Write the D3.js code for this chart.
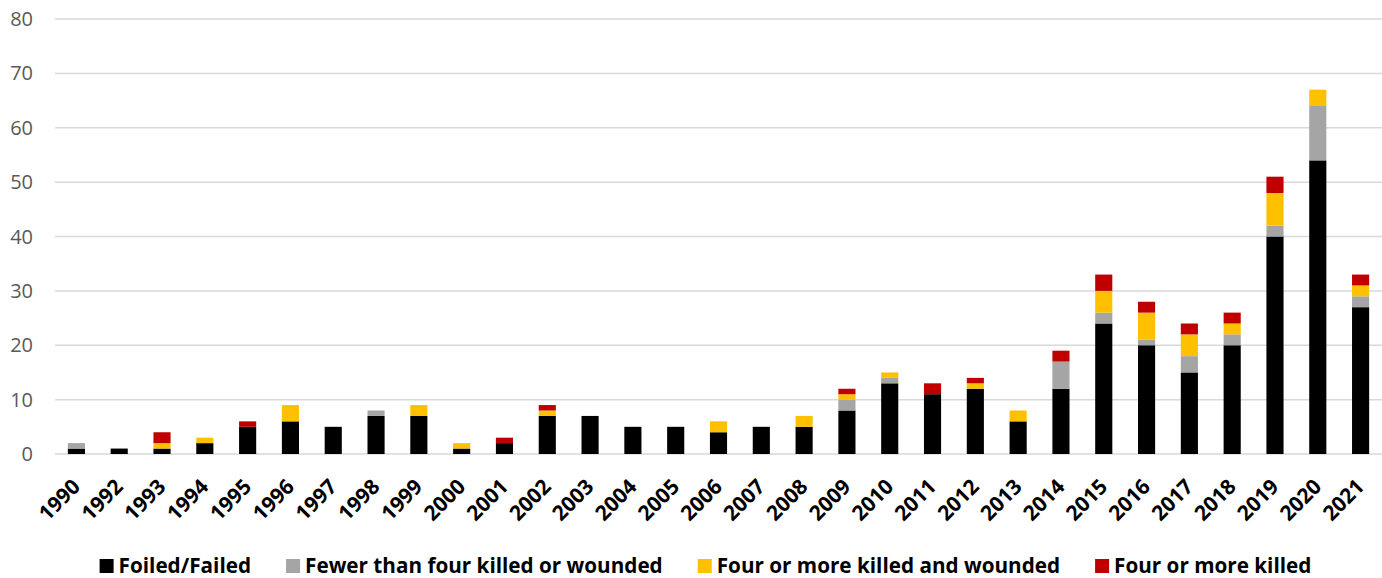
<!DOCTYPE html>
<meta charset="utf-8">
<script src="https://d3js.org/d3.v7.min.js"></script>
<style>
  body { margin: 0; background: #fff; }
  text { font-family: "Open Sans", sans-serif; }
</style>
<div id="my_dataviz"></div>
<script>

  // data
  var years = ["1990", "1992", "1993", "1994", "1995", "1996", "1997", "1998", "1999", "2000",
    "2001", "2002", "2003", "2004", "2005", "2006", "2007", "2008", "2009", "2010",
    "2011", "2012", "2013", "2014", "2015", "2016", "2017", "2018", "2019", "2020", "2021"];
  var foiled = [1, 1, 1, 2, 5, 6, 5, 7, 7, 1, 2, 7, 7, 5, 5, 4, 5, 5, 8, 13, 11, 12, 6, 12, 24, 20, 15, 20, 40, 54, 27];
  var fewer = [1, 0, 0, 0, 0, 0, 0, 1, 0, 0, 0, 0, 0, 0, 0, 0, 0, 0, 2, 1, 0, 0, 0, 5, 2, 1, 3, 2, 2, 10, 2];
  var fourKW = [0, 0, 1, 1, 0, 3, 0, 0, 2, 1, 0, 1, 0, 0, 0, 2, 0, 2, 1, 1, 0, 1, 2, 0, 4, 5, 4, 2, 6, 3, 2];
  var fourK = [0, 0, 2, 0, 1, 0, 0, 0, 0, 0, 1, 1, 0, 0, 0, 0, 0, 0, 1, 0, 2, 1, 0, 2, 3, 2, 2, 2, 3, 0, 2];
  var seriesNames = ["Foiled/Failed", "Fewer than four killed or wounded", "Four or more killed and wounded", "Four or more killed"];
  var seriesColors = ["#000000", "#a5a5a5", "#ffc000", "#c00000"];
  var yTicks = [0, 10, 20, 30, 40, 50, 60, 70, 80];

  var rows = years.map(function (y, i) {
    return { year: y, s0: foiled[i], s1: fewer[i], s2: fourKW[i], s3: fourK[i] };
  });
  var keys = ["s0", "s1", "s2", "s3"];

  var W = 1382, H = 578;
  var margin = { top: 19, right: 0, bottom: 124, left: 55 };
  var width = W - margin.left - margin.right,
    height = H - margin.top - margin.bottom;

  var svg = d3.select("#my_dataviz")
    .append("svg")
    .attr("width", W)
    .attr("height", H);

  var g = svg.append("g")
    .attr("transform", "translate(" + margin.left + "," + margin.top + ")");

  var x = d3.scaleBand()
    .domain(years)
    .range([0, width])
    .paddingInner(0.6)
    .paddingOuter(0.3);

  var y = d3.scaleLinear()
    .domain([0, 80])
    .range([height, 0]);

  // gridlines + y labels
  g.selectAll(".grid")
    .data(yTicks)
    .enter().append("line")
    .attr("x1", 0).attr("x2", width)
    .attr("y1", function (d) { return y(d); })
    .attr("y2", function (d) { return y(d); })
    .attr("stroke", "#d9d9d9")
    .attr("stroke-width", 1.5);

  g.selectAll(".ylab")
    .data(yTicks)
    .enter().append("text")
    .attr("x", -22)
    .attr("y", function (d) { return y(d); })
    .attr("dy", "0.35em")
    .attr("text-anchor", "end")
    .attr("fill", "#595959")
    .style("font-size", "20px")
    .text(function (d) { return d; });

  // stacked bars
  var stacked = d3.stack().keys(keys)(rows);

  g.selectAll(".layer")
    .data(stacked)
    .enter().append("g")
    .attr("fill", function (d, i) { return seriesColors[i]; })
    .selectAll("rect")
    .data(function (d) { return d.filter(function (p) { return p[1] > p[0]; }); })
    .enter().append("rect")
    .attr("x", function (d) { return x(d.data.year); })
    .attr("y", function (d) { return y(d[1]); })
    .attr("width", x.bandwidth())
    .attr("height", function (d) { return y(d[0]) - y(d[1]); });

  // x labels, rotated
  g.selectAll(".xlab")
    .data(years)
    .enter().append("text")
    .attr("text-anchor", "end")
    .attr("transform", function (d) {
      var cx = x(d) + x.bandwidth() / 2 + 5;
      return "translate(" + cx + "," + (height + 34) + ") rotate(-45)";
    })
    .style("font-size", "21px")
    .style("font-weight", "700")
    .attr("fill", "#000")
    .text(function (d) { return d; });

  // legend
  var legend = svg.append("g");
  var lx = 0;
  seriesNames.forEach(function (name, i) {
    var item = legend.append("g").attr("transform", "translate(" + lx + ",0)");
    item.append("rect")
      .attr("x", 0).attr("y", -14)
      .attr("width", 14).attr("height", 14)
      .attr("fill", seriesColors[i]);
    var t = item.append("text")
      .attr("x", 19).attr("y", 0)
      .style("font-size", "20.7px")
      .style("font-weight", "700")
      .attr("fill", "#000")
      .text(name);
    lx += 19 + t.node().getComputedTextLength() + 35;
  });
  lx -= 35;
  legend.attr("transform", "translate(" + (705.5 - lx / 2) + ",573)");

</script>
